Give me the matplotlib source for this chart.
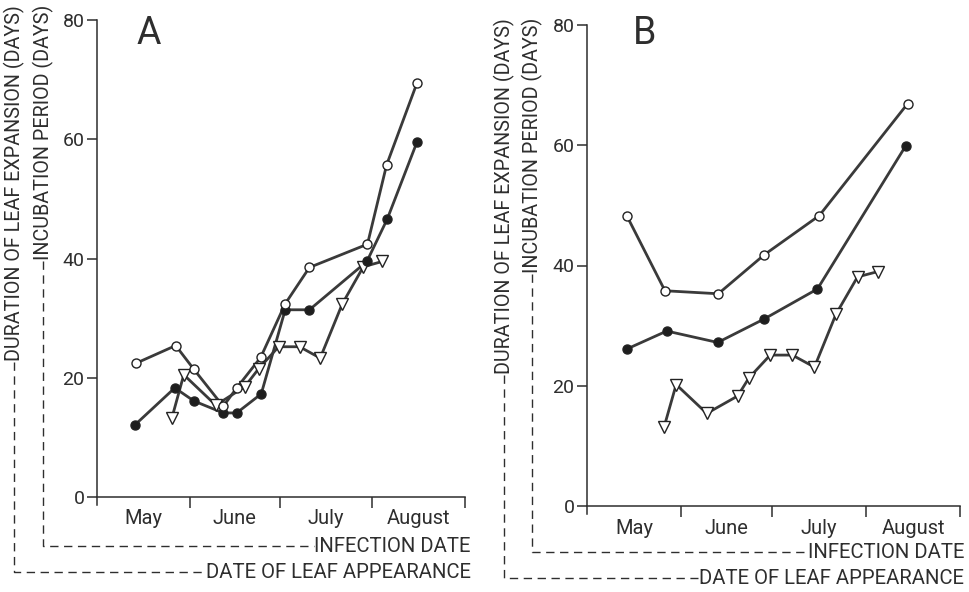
import matplotlib
matplotlib.use("Agg")
import matplotlib.pyplot as plt
from matplotlib.lines import Line2D

plt.rcParams["font.family"] = ["Roboto", "DejaVu Sans"]

INK = "#2e2e2e"

# x = days since 1 May
MONTHS = ["May", "June", "July", "August"]
MONTH_EDGES = [0, 31, 61, 92, 123]

# panel A
A_open_x = [12.9, 26.3, 32.4, 42.2, 46.7, 54.7, 62.9, 71.0, 90.4, 96.8, 107.0]
A_open_y = [22.4, 25.4, 21.4, 15.2, 18.3, 23.4, 32.4, 38.5, 42.4, 55.7, 69.5]
A_fill_x = [12.7, 26.0, 32.4, 42.2, 46.7, 54.9, 62.9, 71.0, 90.2, 97.0, 107.0]
A_fill_y = [12.1, 18.3, 16.1, 14.1, 14.1, 17.3, 31.4, 31.4, 39.5, 46.6, 59.6]
A_tri_x = [25.0, 29.0, 39.7, 49.4, 54.0, 60.7, 67.7, 74.6, 82.0, 89.0, 95.3]
A_tri_y = [13.2, 20.5, 15.4, 18.5, 21.5, 25.2, 25.2, 23.3, 32.4, 38.6, 39.5]

# panel B
B_open_x = [13.1, 25.7, 43.3, 58.5, 76.6, 105.7]
B_open_y = [48.3, 35.8, 35.3, 41.8, 48.3, 66.9]
B_fill_x = [13.1, 26.3, 43.1, 58.4, 76.0, 105.1]
B_fill_y = [26.1, 29.1, 27.2, 31.1, 36.1, 59.9]
B_tri_x = [25.4, 29.4, 39.5, 49.7, 53.4, 60.4, 67.7, 75.0, 82.1, 89.2, 96.0]
B_tri_y = [13.1, 20.2, 15.4, 18.3, 21.3, 25.1, 25.1, 23.1, 31.9, 38.1, 39.0]

W, H = 969, 592
fig = plt.figure(figsize=(W / 100, H / 100), dpi=100)
fig.patch.set_facecolor("white")


def px(x, y):
    return x / W, 1 - y / H


def make_axes(left, right, top, zero):
    # zero = pixel row of y=0, top = pixel row of y=80
    ppu = (zero - top) / 80.0
    ymin = -1.4
    bottom = zero - ymin * ppu
    ax = fig.add_axes([left / W, 1 - bottom / H, (right - left) / W, (bottom - top) / H])
    ax.set_xlim(0, 123)
    ax.set_ylim(ymin, 80)
    for s in ("top", "right"):
        ax.spines[s].set_visible(False)
    ax.spines["bottom"].set_position(("data", 0))
    for s in ("left", "bottom"):
        ax.spines[s].set_color(INK)
        ax.spines[s].set_linewidth(1.1)
    ax.set_yticks([0, 20, 40, 60, 80])
    ax.tick_params(axis="y", direction="out", length=7, width=1.1, colors=INK,
                   labelsize=14, pad=2)
    ax.set_xticks(MONTH_EDGES[1:])
    ax.set_xticklabels([])
    ax.set_xticks([(a + b) / 2 for a, b in zip(MONTH_EDGES[:-1], MONTH_EDGES[1:])], minor=True)
    ax.set_xticklabels(MONTHS, minor=True)
    ax.tick_params(axis="x", which="major", direction="out", length=8, width=1.1, colors=INK)
    ax.tick_params(axis="x", which="minor", length=0, labelsize=14.5, pad=9, colors=INK)
    ax.patch.set_alpha(0)
    return ax


def draw_series(ax, x, y, marker, face, ms):
    ax.plot(x, y, "-", color="#3a3a3a", lw=2.0, zorder=2)
    ax.plot(x, y, ls="none", marker=marker, ms=ms, mfc=face, mec="#222222",
            mew=1.0, zorder=3)


axA = make_axes(97, 465, 20, 497)
draw_series(axA, A_tri_x, A_tri_y, "v", "white", 8)
draw_series(axA, A_fill_x, A_fill_y, "o", "#1e1e1e", 6.5)
draw_series(axA, A_open_x, A_open_y, "o", "white", 6.5)

axB = make_axes(587, 960, 25, 506)
draw_series(axB, B_tri_x, B_tri_y, "v", "white", 8)
draw_series(axB, B_fill_x, B_fill_y, "o", "#1e1e1e", 6.5)
draw_series(axB, B_open_x, B_open_y, "o", "white", 6.5)

fig.text(*px(149, 34), "A", fontsize=27, color=INK, ha="center", va="center")
fig.text(*px(645, 34), "B", fontsize=27, color=INK, ha="center", va="center")

# axis captions: vertical label, dashed leader down and across to horizontal label
brackets = [
    (14, 5, 572, "DURATION OF LEAF EXPANSION (DAYS)", "DATE OF LEAF APPEARANCE", 471),
    (43, 5, 546, "INCUBATION PERIOD (DAYS)", "INFECTION DATE", 471),
    (504, 18, 578, "DURATION OF LEAF EXPANSION (DAYS)", "DATE OF LEAF APPEARANCE", 964),
    (532, 18, 552, "INCUBATION PERIOD (DAYS)", "INFECTION DATE", 964),
]
pairs = []
for xv, ytop, yc, lv, lh, xr in brackets:
    tv = fig.text(*px(xv, ytop), lv, rotation=90, ha="center", va="top",
                  fontsize=14.2, color=INK)
    th = fig.text(*px(xr, yc), lh, ha="right", va="center", fontsize=14.6, color=INK)
    pairs.append((xv, yc, tv, th))

fig.canvas.draw()
r = fig.canvas.get_renderer()
for xv, yc, tv, th in pairs:
    y_top = H - tv.get_window_extent(r).y0 + 1
    x_end = th.get_window_extent(r).x0 - 1
    xs = [xv, xv, x_end]
    ys = [y_top, yc, yc]
    fig.add_artist(Line2D([x / W for x in xs], [1 - y / H for y in ys],
                          transform=fig.transFigure, color=INK, lw=1.0,
                          ls=(0, (6, 4))))

fig.savefig("out.png", dpi=100, facecolor="white")
